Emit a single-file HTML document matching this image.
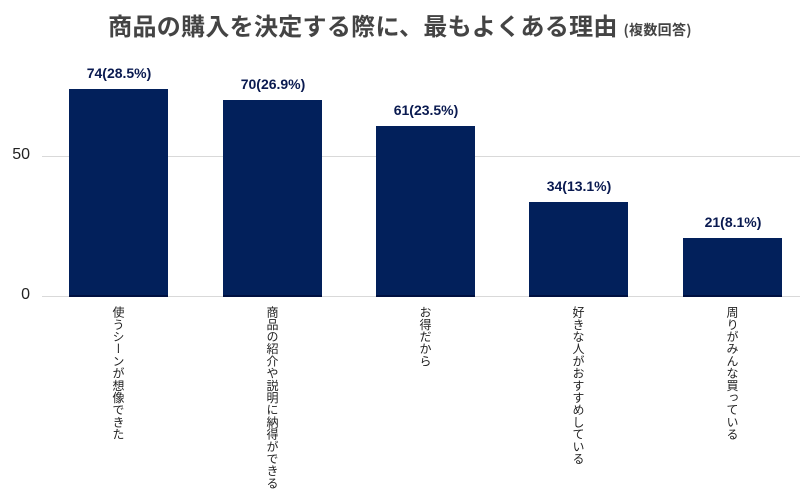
<!DOCTYPE html>
<html><head><meta charset="utf-8"><style>
body{margin:0;width:800px;height:500px;background:#fff;position:relative;overflow:hidden;font-family:"Liberation Sans","Noto Sans CJK JP",sans-serif}
.t{position:absolute;top:7px;left:0;width:800px;text-align:center;font-weight:bold;font-size:24px;color:#444;font-family:"Noto Sans CJK JP",sans-serif;letter-spacing:0.3px}
.t small{font-size:14px}
.g{position:absolute;left:42px;width:758px;height:1px;background:#d9d9d9}
.y{position:absolute;left:0;width:30px;text-align:right;font-size:16px;color:#222}
.b{position:absolute;width:99px;background:#02205b;border-bottom:2px solid #001040;box-sizing:border-box}
.v{position:absolute;width:140px;text-align:center;font-weight:bold;font-size:14px;color:#0a1a50}
.l{position:absolute;top:306px;writing-mode:vertical-rl;font-size:12px;line-height:14px;color:#222;font-family:"Noto Sans CJK JP",sans-serif;letter-spacing:0.2px}
</style></head><body>
<div class="t">商品の購入を決定する際に、最もよくある理由 <small>(複数回答)</small></div>
<div class="g" style="top:156px"></div>
<div class="g" style="top:296px"></div>
<div class="y" style="top:146px">50</div>
<div class="y" style="top:286px">0</div>

<div class="b" style="left:69px;top:89px;height:208px"></div>
<div class="b" style="left:223px;top:100px;height:197px"></div>
<div class="b" style="left:376px;top:126px;height:171px"></div>
<div class="b" style="left:529px;top:202px;height:95px"></div>
<div class="b" style="left:683px;top:238px;height:59px"></div>

<div class="v" style="left:49px;top:65px">74(28.5%)</div>
<div class="v" style="left:203px;top:76px">70(26.9%)</div>
<div class="v" style="left:356px;top:102px">61(23.5%)</div>
<div class="v" style="left:509px;top:178px">34(13.1%)</div>
<div class="v" style="left:663px;top:214px">21(8.1%)</div>

<div class="l" style="left:111px">使うシーンが想像できた</div>
<div class="l" style="left:265px">商品の紹介や説明に納得ができる</div>
<div class="l" style="left:418px">お得だから</div>
<div class="l" style="left:571px">好きな人がおすすめしている</div>
<div class="l" style="left:725px">周りがみんな買っている</div>
</body></html>
